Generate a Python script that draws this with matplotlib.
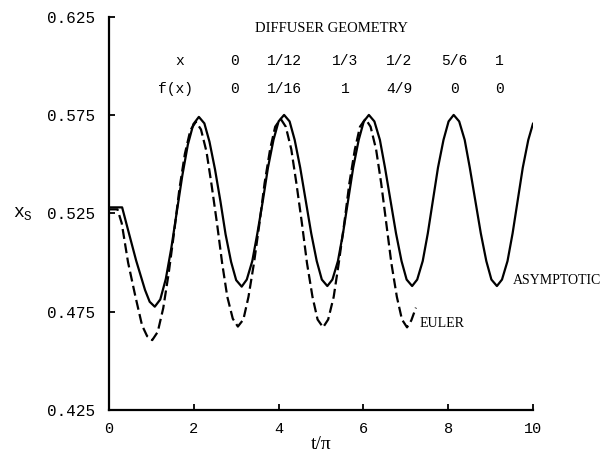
import matplotlib
matplotlib.use("Agg")
import matplotlib.pyplot as plt
import matplotlib.transforms as mtransforms

# shock position x_s versus t/pi, asymptotic solution (solid)
t_asym = [0.0, 0.31, 0.45, 0.64, 0.85, 0.96,
          1.08, 1.21, 1.34, 1.47, 1.60, 1.73, 1.86, 1.99,
          2.12, 2.25, 2.37, 2.50, 2.63, 2.75, 2.88, 3.00,
          3.13, 3.25, 3.38, 3.50, 3.63, 3.75, 3.88, 4.00,
          4.13, 4.26, 4.38, 4.51, 4.64, 4.77, 4.90, 5.02,
          5.15, 5.27, 5.40, 5.52, 5.64, 5.76, 5.89, 6.01,
          6.13, 6.26, 6.39, 6.51, 6.64, 6.77, 6.90, 7.02,
          7.15, 7.27, 7.40, 7.52, 7.64, 7.76, 7.89, 8.01,
          8.13, 8.26, 8.39, 8.51, 8.64, 8.77, 8.90, 9.02,
          9.15, 9.27, 9.40, 9.52, 9.64, 9.76, 9.89, 10.0]
xs_asym = [0.528, 0.528, 0.5165, 0.501, 0.486, 0.480,
           0.4775, 0.4812, 0.4916, 0.5073, 0.5258, 0.5442, 0.5599, 0.5703,
           0.5740, 0.5707, 0.5614, 0.5474, 0.5309, 0.5143, 0.5003, 0.4910,
           0.4877, 0.4913, 0.5007, 0.5148, 0.5315, 0.5482, 0.5623, 0.5717,
           0.5750, 0.5717, 0.5623, 0.5482, 0.5315, 0.5148, 0.5007, 0.4913,
           0.4880, 0.4913, 0.5007, 0.5148, 0.5315, 0.5482, 0.5623, 0.5717,
           0.5750, 0.5717, 0.5623, 0.5482, 0.5315, 0.5148, 0.5007, 0.4913,
           0.4880, 0.4913, 0.5007, 0.5148, 0.5315, 0.5482, 0.5623, 0.5717,
           0.5750, 0.5717, 0.5623, 0.5482, 0.5315, 0.5148, 0.5007, 0.4913,
           0.4880, 0.4913, 0.5007, 0.5148, 0.5315, 0.5482, 0.5623, 0.5705]

# Euler solution (dashed)
t_euler = [0.0, 0.2, 0.3, 0.45, 0.62, 0.78, 0.90,
           1.02, 1.15, 1.28, 1.41, 1.54, 1.66, 1.79, 1.92,
           2.05, 2.17, 2.30, 2.42, 2.55, 2.67, 2.79, 2.92,
           3.04, 3.17, 3.29, 3.42, 3.55, 3.67, 3.80, 3.92,
           4.05, 4.17, 4.30, 4.42, 4.55, 4.67, 4.80, 4.92,
           5.05, 5.17, 5.30, 5.42, 5.55, 5.67, 5.80, 5.92,
           6.05, 6.17, 6.30, 6.42, 6.54, 6.66, 6.79, 6.91,
           7.03, 7.13, 7.24]
xs_euler = [0.527, 0.527, 0.520, 0.500, 0.483, 0.468, 0.4625,
            0.4605, 0.4647, 0.4768, 0.4948, 0.5160, 0.5372, 0.5552, 0.5673,
            0.5715, 0.5676, 0.5563, 0.5394, 0.5195, 0.4995, 0.4826, 0.4714,
            0.4674, 0.4710, 0.4825, 0.4997, 0.5200, 0.5403, 0.5575, 0.5690,
            0.5730, 0.5690, 0.5575, 0.5403, 0.5200, 0.4997, 0.4825, 0.4710,
            0.4670, 0.4710, 0.4825, 0.4997, 0.5200, 0.5403, 0.5575, 0.5690,
            0.5730, 0.5690, 0.5575, 0.5403, 0.5200, 0.4997, 0.4825, 0.4710,
            0.4670, 0.4705, 0.4770]

# diffuser geometry table
geom_x = ["0", "1/12", "1/3", "1/2", "5/6", "1"]
geom_f = ["0", "1/16", "1", "4/9", "0", "0"]

x_ticks = [0, 2, 4, 6, 8, 10]
y_ticks = [0.425, 0.475, 0.525, 0.575, 0.625]

mono = "Liberation Mono"
serif = "Liberation Serif"

fig = plt.figure(figsize=(6.14, 4.54), dpi=100)
ax = fig.add_axes([0.1775, 0.097, 0.6905, 0.8665])

ax.plot(t_asym, xs_asym, color="black", lw=1.6, solid_joinstyle="round")
ax.plot(t_euler, xs_euler, color="black", lw=1.6, dashes=(4.5, 2))

ax.set_xlim(0, 10)
ax.set_ylim(0.425, 0.625)
ax.set_xticks(x_ticks)
ax.set_yticks(y_ticks)
ax.set_xticklabels([str(v) for v in x_ticks], family=mono, fontsize=11)
ax.set_yticklabels(["%.3f" % v for v in y_ticks], family=mono, fontsize=11.5)
ax.tick_params(direction="in", length=4, width=1.3)
ax.tick_params(axis="x", pad=9)
ax.tick_params(axis="y", pad=10)

for side in ("top", "right"):
    ax.spines[side].set_visible(False)
for side in ("left", "bottom"):
    ax.spines[side].set_linewidth(1.6)

ax.set_xlabel("t/\u03c0", family=serif, fontsize=14, labelpad=0)

# y label sits level with the 0.525 tick
trans = mtransforms.blended_transform_factory(ax.transAxes, ax.transData)
ax.text(-0.226, 0.525, "x$_\\mathregular{S}$", transform=trans,
        family=mono, fontsize=13, ha="left", va="center")

ax.text(0.526, 0.970, "DIFFUSER GEOMETRY", transform=ax.transAxes,
        family=serif, fontsize=10.5, ha="center", va="center")
ax.text(0.167, 0.888, "x", transform=ax.transAxes,
        family=mono, fontsize=10.5, ha="center", va="center")
ax.text(0.156, 0.815, "f(x)", transform=ax.transAxes,
        family=mono, fontsize=10.5, ha="center", va="center")
col_pos = [0.297, 0.415, 0.557, 0.684, 0.814, 0.920]
for cx, gx, gf in zip(col_pos, geom_x, geom_f):
    ax.text(cx, 0.888, gx, transform=ax.transAxes,
            family=mono, fontsize=10.5, ha="center", va="center")
    ax.text(cx, 0.815, gf, transform=ax.transAxes,
            family=mono, fontsize=10.5, ha="center", va="center")

ax.text(0.953, 0.330, "ASYMPTOTIC", transform=ax.transAxes,
        family=serif, fontsize=10, ha="left", va="center", clip_on=False)
ax.text(0.733, 0.221, "EULER", transform=ax.transAxes,
        family=serif, fontsize=10, ha="left", va="center")

fig.savefig("out.png", dpi=100)
